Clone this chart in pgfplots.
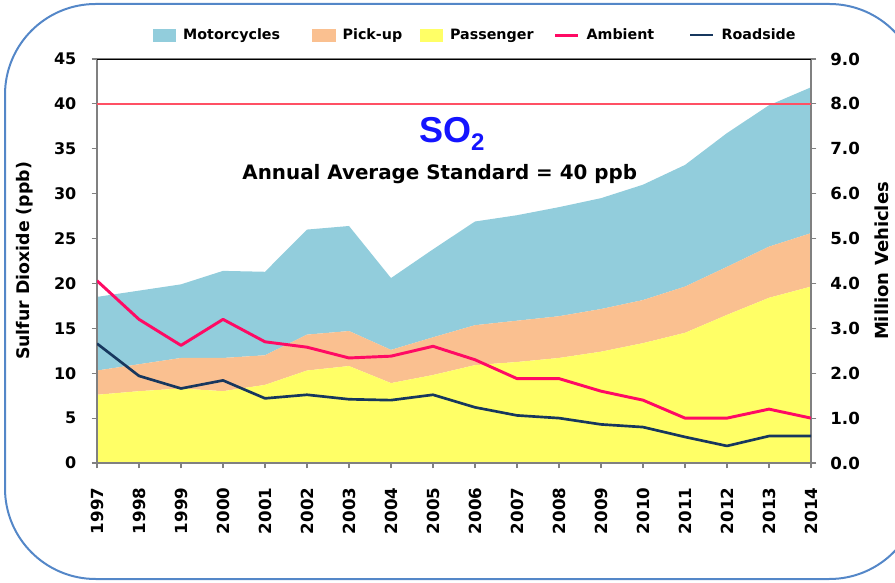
\documentclass[border=0pt]{standalone}
\usepackage{pgfplots}
\pgfplotsset{compat=1.18}
\usepackage{fontspec}
\setmainfont{DejaVu Sans}
\newfontfamily\arialfont{Liberation Sans}
\definecolor{moto}{RGB}{146,205,220}
\definecolor{pick}{RGB}{250,192,144}
\definecolor{pass}{RGB}{255,255,102}
\definecolor{amb}{RGB}{255,10,100}
\definecolor{road}{RGB}{23,55,94}
\definecolor{frameblue}{RGB}{84,135,200}
\definecolor{axgray}{RGB}{128,128,128}
\definecolor{stdred}{RGB}{255,80,100}
\definecolor{so2blue}{RGB}{20,20,255}

\pgfplotstableread{
year pass pick moto
1997 1.52 0.54 1.64
1998 1.60 0.60 1.64
1999 1.66 0.68 1.64
2000 1.60 0.74 1.94
2001 1.74 0.66 1.86
2002 2.06 0.80 2.34
2003 2.16 0.78 2.34
2004 1.78 0.74 1.60
2005 1.96 0.84 1.96
2006 2.18 0.89 2.31
2007 2.25 0.92 2.35
2008 2.34 0.93 2.43
2009 2.48 0.95 2.47
2010 2.67 0.96 2.57
2011 2.90 1.03 2.71
2012 3.30 1.07 2.98
2013 3.68 1.14 3.15
2014 3.93 1.19 3.25
}\vehicles

\pgfplotstableread{
year amb road
1997 20.3 13.3
1998 16.0 9.7
1999 13.1 8.3
2000 16.0 9.2
2001 13.5 7.2
2002 12.9 7.6
2003 11.7 7.1
2004 11.9 7.0
2005 13.0 7.6
2006 11.5 6.2
2007 9.4 5.3
2008 9.4 5.0
2009 8.0 4.3
2010 7.0 4.0
2011 5.0 2.9
2012 5.0 1.9
2013 6.0 3.0
2014 5.0 3.0
}\sotwo

\begin{document}
\begin{tikzpicture}
\useasboundingbox (0,0) rectangle (671.25pt,436.5pt);
\begin{scope}
\clip (0,0) rectangle (671.25pt,436.5pt);
\draw[color=frameblue, line width=1.5pt, rounded corners=68pt] (3.75pt,2.25pt) rectangle (690pt,433.5pt);
\end{scope}

% vehicles (right axis)
\begin{axis}[
  at={(72.75pt,89.25pt)}, anchor=south west,
  scale only axis, width=535.5pt, height=303pt,
  xmin=1997, xmax=2014, ymin=0, ymax=9,
  axis x line=none,
  axis y line*=right,
  axis line style={axgray, line width=1.2pt, -},
  ytick={0,1,...,9},
  tick align=outside,
  major tick length=4pt,
  tick style={axgray, line width=0.8pt},
  yticklabel style={font=\bfseries\fontsize{12.5}{14}\selectfont, xshift=7pt,
    /pgf/number format/.cd, fixed, fixed zerofill, precision=1, assume math mode=true},
  ylabel={\bfseries Million Vehicles},
  ylabel style={font=\fontsize{13.5}{15}\selectfont, at={(axis description cs:1.0994,0.5)}, anchor=center},
  stack plots=y,
]
\addplot[fill=pass, draw=none] table[x=year, y=pass] {\vehicles} \closedcycle;
\addplot[fill=pick, draw=none] table[x=year, y=pick] {\vehicles} \closedcycle;
\addplot[fill=moto, draw=none] table[x=year, y=moto] {\vehicles} \closedcycle;
\end{axis}

% SO2 (left axis)
\begin{axis}[
  at={(72.75pt,89.25pt)}, anchor=south west,
  scale only axis, width=535.5pt, height=303pt,
  xmin=1997, xmax=2014, ymin=0, ymax=45,
  axis line style={axgray, line width=1.2pt},
  tick pos=left,
  tick align=outside,
  major tick length=4pt,
  tick style={axgray, line width=0.8pt},
  xtick={1997,1998,...,2014},
  ytick={0,5,...,45},
  yticklabel style={font=\bfseries\fontsize{12}{14}\selectfont, xshift=-8pt,
    /pgf/number format/assume math mode=true},
  xticklabel style={font=\bfseries\fontsize{12.5}{14}\selectfont, rotate=90, anchor=east, xshift=-11pt,
    /pgf/number format/.cd, 1000 sep={}, assume math mode=true},
  ylabel={\bfseries Sulfur Dioxide (ppb)},
  ylabel style={font=\fontsize{13}{15}\selectfont, at={(axis description cs:-0.1008,0.5)}, anchor=center},
  legend columns=5,
  legend style={at={(0.072,1.059)}, anchor=west, draw=none, fill=none,
    font=\bfseries\fontsize{10.7}{13}\selectfont,
    /tikz/every odd column/.append style={column sep=3.5pt},
    /tikz/column 2/.append style={column sep=22pt},
    /tikz/column 4/.append style={column sep=11pt},
    /tikz/column 6/.append style={column sep=13pt},
    /tikz/column 8/.append style={column sep=24pt}},
  legend cell align=left,
]
\addlegendimage{legend image code/.code={\fill[moto] (0pt,-4.3pt) rectangle (17pt,4.3pt);}}
\addlegendentry{Motorcycles}
\addlegendimage{legend image code/.code={\fill[pick] (0pt,-4.3pt) rectangle (17pt,4.3pt);}}
\addlegendentry{Pick-up}
\addlegendimage{legend image code/.code={\fill[pass] (0pt,-4.3pt) rectangle (17pt,4.3pt);}}
\addlegendentry{Passenger}
\addplot[stdred, line width=1pt, forget plot] coordinates {(1997,40) (2014,40)};
\addplot[amb, line width=2.2pt, line join=round] table[x=year, y=amb] {\sotwo};
\addlegendentry{Ambient}
\addplot[road, line width=2pt, line join=round] table[x=year, y=road] {\sotwo};
\addlegendentry{Roadside}
\draw[black, line width=1.2pt] (rel axis cs:0,1) -- (rel axis cs:1,1);
\node[font=\arialfont\bfseries\fontsize{27}{30}\selectfont, text=so2blue] at (rel axis cs:0.497,0.815)
  {SO\raisebox{-6pt}{\fontsize{18}{20}\selectfont 2}};
\node[font=\bfseries\fontsize{14.9}{18}\selectfont] at (rel axis cs:0.48,0.715)
  {Annual Average Standard = 40 ppb};
\end{axis}
\end{tikzpicture}
\end{document}
